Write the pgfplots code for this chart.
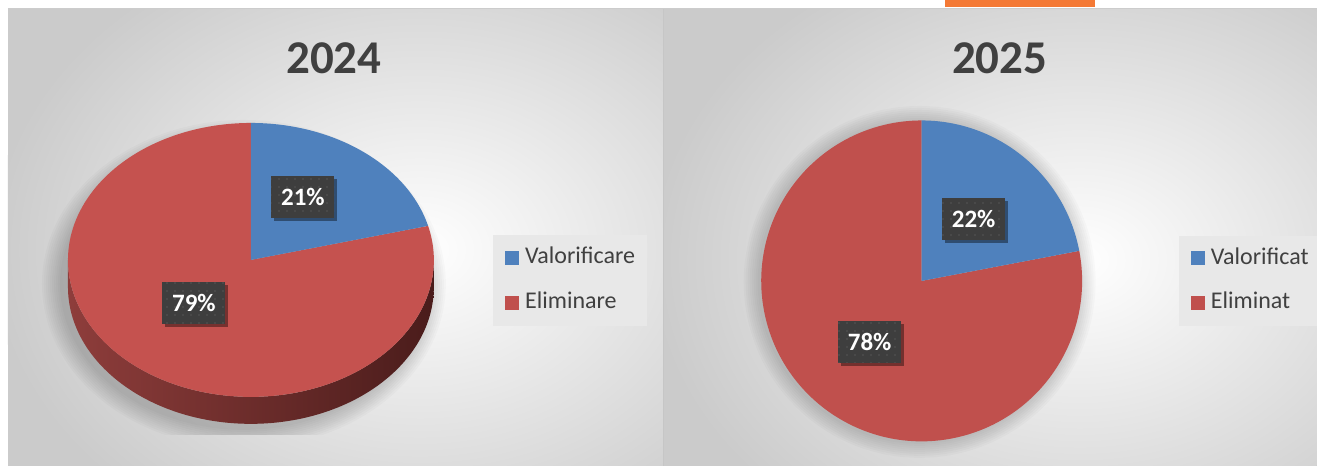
\documentclass[border=0pt]{standalone}
\usepackage{pgfplots}
\pgfplotsset{compat=1.18}
\usepackage{pgfplotstable}
\usepackage{fontspec}
\setmainfont{Carlito}
\usetikzlibrary{patterns.meta,shadows}
\definecolor{pblue}{HTML}{4F81BD}
\definecolor{pred}{HTML}{C0504D}
\definecolor{predt}{HTML}{C5524F}
\definecolor{sideL}{HTML}{8E3D3B}
\definecolor{sideM}{HTML}{5C2422}
\definecolor{sideR}{HTML}{4A1C1B}
\definecolor{txt}{HTML}{404040}
\definecolor{lbl}{HTML}{3E3E3E}
\definecolor{bgG}{HTML}{CBCBCB}
\definecolor{legbg}{HTML}{E8E8E8}
\definecolor{orng}{HTML}{F47935}

\pgfplotstableread{
year valor elim
2024 21 79
2025 22 78
}\piedata
\pgfplotstablegetelem{0}{valor}\of\piedata \edef\vA{\pgfplotsretval}
\pgfplotstablegetelem{1}{valor}\of\piedata \edef\vB{\pgfplotsretval}
\pgfplotstablegetelem{0}{elim}\of\piedata \edef\eA{\pgfplotsretval}
\pgfplotstablegetelem{1}{elim}\of\piedata \edef\eB{\pgfplotsretval}
\pgfmathsetmacro\angA{90-3.6*\vA}
\pgfmathsetmacro\angB{90-3.6*\vB}

\tikzset{
  lblbox/.style={fill=lbl, text=white, font=\bfseries\fontsize{12.5}{14}\selectfont,
    minimum width=31.5pt, minimum height=21pt, inner sep=0pt,
    drop shadow={shadow xshift=1.5pt, shadow yshift=-1.5pt, opacity=.4, fill=black},
    postaction={pattern={Dots[radius=0.35pt, distance=4pt]}, pattern color=white!25!lbl}},
  legtxt/.style={anchor=base west, text=txt, font=\fontsize{12}{14}\selectfont, inner sep=0pt},
  ttl/.style={text=txt, font=\bfseries\fontsize{23.5}{26}\selectfont, inner sep=0pt},
  sh/.style={fill=black, opacity=0.018}
}

\begin{document}
\begin{tikzpicture}
\begin{axis}[scale only axis, width=658.5pt, height=233pt,
  xmin=0, xmax=1317, ymin=0, ymax=466, y dir=reverse,
  hide axis, clip=false]
% page and panels
\fill[white] (axis cs:0,0) rectangle (axis cs:1317,466);
\fill[orng] (axis cs:945,0) rectangle (axis cs:1095,7);
\fill[bgG] (axis cs:8,8) rectangle (axis cs:663,466);
\begin{scope}
\clip (axis cs:8,8) rectangle (axis cs:663,466);
\shade[inner color=white, outer color=bgG] (axis cs:420,250) ellipse [x radius=215pt, y radius=165pt];
\end{scope}
\fill[bgG] (axis cs:664,8) rectangle (axis cs:1317,466);
\begin{scope}
\clip (axis cs:664,8) rectangle (axis cs:1317,466);
\shade[inner color=white, outer color=bgG] (axis cs:1080,260) ellipse [x radius=215pt, y radius=165pt];
\end{scope}
\draw[gray!45, line width=0.6pt] (axis cs:663.5,8) -- (axis cs:663.5,466);
\draw[gray!40, line width=0.5pt] (axis cs:8,8.5) -- (axis cs:1317,8.5);

% titles
\node[ttl] at (axis cs:334,58) {2024};
\node[ttl] at (axis cs:1000,58) {2025};

% ---- 2024 : 3D pie ----
\begin{scope}
\clip (axis cs:8,8) rectangle (axis cs:663,435);
\fill[sh] (axis cs:244,284) ellipse [x radius=92pt, y radius=73pt];
\fill[sh] (axis cs:244,284) ellipse [x radius=93pt, y radius=74pt];
\fill[sh] (axis cs:244,284) ellipse [x radius=94pt, y radius=75pt];
\fill[sh] (axis cs:244,284) ellipse [x radius=95pt, y radius=76pt];
\fill[sh] (axis cs:244,284) ellipse [x radius=96pt, y radius=77pt];
\fill[sh] (axis cs:244,284) ellipse [x radius=97pt, y radius=78pt];
\fill[sh] (axis cs:244,284) ellipse [x radius=98pt, y radius=79pt];
\fill[sh] (axis cs:244,284) ellipse [x radius=99pt, y radius=80pt];
\fill[sh] (axis cs:244,284) ellipse [x radius=100pt, y radius=81pt];
\fill[sh] (axis cs:244,284) ellipse [x radius=101pt, y radius=82pt];
\end{scope}
\shade[left color=sideL, middle color=sideM, right color=sideR]
  ([shift={(180:91.5pt and 68.5pt)}]axis cs:251,260)
  arc[start angle=180, end angle=360, x radius=91.5pt, y radius=68.5pt]
  -- ++(0,-13.5pt)
  arc[start angle=360, end angle=180, x radius=91.5pt, y radius=68.5pt] -- cycle;
\fill[predt] (axis cs:251,260) -- ([shift={(\angA:91.5pt and 68.5pt)}]axis cs:251,260)
  arc[start angle=\angA, end angle=-270, x radius=91.5pt, y radius=68.5pt] -- cycle;
\fill[pblue] (axis cs:251,260) -- ([shift={(90:91.5pt and 68.5pt)}]axis cs:251,260)
  arc[start angle=90, end angle=\angA, x radius=91.5pt, y radius=68.5pt] -- cycle;
\node[lblbox] at (axis cs:303,197) {\vA\%};
\node[lblbox] at (axis cs:194,303) {\eA\%};

% legend 2024
\fill[legbg] (axis cs:493,235) rectangle (axis cs:647,326);
\fill[pblue] (axis cs:505,251) rectangle (axis cs:519,265);
\fill[pred] (axis cs:505,296) rectangle (axis cs:519,310);
\node[legtxt] at (axis cs:525,264) {Valorificare};
\node[legtxt] at (axis cs:525,309) {Eliminare};

% ---- 2025 : flat pie ----
\fill[sh] (axis cs:920,282) circle [radius=81pt];
\fill[sh] (axis cs:920,282) circle [radius=82pt];
\fill[sh] (axis cs:920,282) circle [radius=83pt];
\fill[sh] (axis cs:920,282) circle [radius=84pt];
\fill[sh] (axis cs:920,282) circle [radius=85pt];
\fill[sh] (axis cs:920,282) circle [radius=86pt];
\fill[sh] (axis cs:920,282) circle [radius=87pt];
\fill[sh] (axis cs:920,282) circle [radius=88pt];
\fill[pred] (axis cs:922,281) -- ([shift={(\angB:80.25pt)}]axis cs:922,281)
  arc[start angle=\angB, end angle=-270, radius=80.25pt] -- cycle;
\fill[pblue] (axis cs:922,281) -- ([shift={(90:80.25pt)}]axis cs:922,281)
  arc[start angle=90, end angle=\angB, radius=80.25pt] -- cycle;
\node[lblbox] at (axis cs:974,219) {\vB\%};
\node[lblbox] at (axis cs:870,342) {\eB\%};

% legend 2025
\fill[legbg] (axis cs:1179,236) rectangle (axis cs:1317,326);
\fill[pblue] (axis cs:1191,251) rectangle (axis cs:1205,265);
\fill[pred] (axis cs:1191,296) rectangle (axis cs:1205,310);
\node[legtxt] at (axis cs:1211,265) {Valorificat};
\node[legtxt] at (axis cs:1211,309) {Eliminat};
\end{axis}
\end{tikzpicture}
\end{document}
